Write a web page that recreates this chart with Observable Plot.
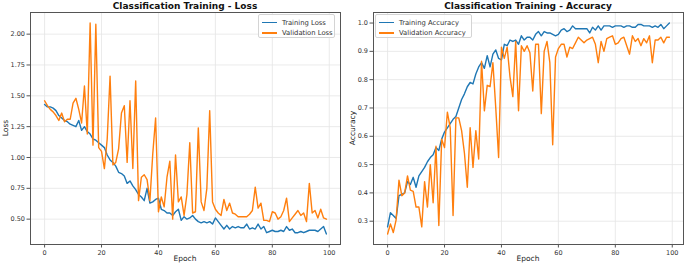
<!DOCTYPE html>
<html>
<head>
<meta charset="utf-8">
<script src="https://cdn.jsdelivr.net/npm/d3@7"></script>
<script src="https://cdn.jsdelivr.net/npm/@observablehq/plot@0.6"></script>
<style>
  html, body { margin: 0; padding: 0; background: #fff; }
  #wrap { position: relative; width: 685px; height: 267px; overflow: hidden; font-family: "DejaVu Sans", sans-serif; }
  .panel { position: absolute; top: 0; }
  .title { position: absolute; top: 0.5px; font-size: 9px; font-weight: bold; line-height: 11px; color: #111; transform: translateX(-50%); white-space: nowrap; }
  .xlab { position: absolute; top: 254px; font-size: 7.5px; line-height: 9px; color: #222; transform: translateX(-50%); white-space: nowrap; }
  .ylab { position: absolute; font-size: 7.5px; line-height: 9px; color: #222; transform: translate(-50%, -50%) rotate(-90deg); white-space: nowrap; }
  .legend { position: absolute; background: rgba(255,255,255,0.85); border: 1px solid #d4d4d4; border-radius: 2px; box-sizing: border-box; }
  .lg-row { position: absolute; left: 0; height: 10px; font-size: 6.8px; line-height: 10px; color: #333; white-space: nowrap; }
  .lg-sw { position: absolute; left: 3px; top: 4.3px; width: 15px; height: 1.5px; }
  .lg-tx { position: absolute; left: 23px; top: 0; }
</style>
</head>
<body>
<div id="wrap"></div>
<script>
// ---- data ----
const epochs = d3.range(100);
const xTicks = [0, 20, 40, 60, 80, 100];

const trainLoss = [
  1.43, 1.41, 1.41, 1.40, 1.38, 1.34, 1.32, 1.30, 1.29, 1.27,
  1.26, 1.25, 1.30, 1.22, 1.25, 1.21, 1.19, 1.15, 1.14, 1.12,
  1.10, 1.08, 1.02, 0.98, 0.96, 0.93, 0.88, 0.87, 0.85, 0.79,
  0.81, 0.77, 0.74, 0.70, 0.68, 0.65, 0.75, 0.63, 0.64, 0.66,
  0.67, 0.58, 0.57, 0.55, 0.55, 0.53, 0.56, 0.58, 0.49, 0.52,
  0.50, 0.51, 0.53, 0.50, 0.48, 0.47, 0.48, 0.47, 0.48, 0.46,
  0.51, 0.48, 0.45, 0.42, 0.45, 0.42, 0.44, 0.43, 0.44, 0.43,
  0.43, 0.46, 0.42, 0.43, 0.42, 0.46, 0.42, 0.44, 0.39, 0.40,
  0.41, 0.40, 0.40, 0.41, 0.40, 0.44, 0.41, 0.42, 0.39, 0.39,
  0.40, 0.39, 0.40, 0.41, 0.41, 0.41, 0.40, 0.42, 0.44, 0.38
];
const valLoss = [
  1.46, 1.42, 1.39, 1.37, 1.34, 1.30, 1.36, 1.29, 1.31, 1.31,
  1.44, 1.48, 1.39, 1.28, 1.58, 1.19, 2.09, 1.10, 2.08, 1.08,
  1.05, 0.91, 1.15, 1.66, 0.94, 0.96, 1.07, 1.36, 1.42, 0.96,
  1.46, 0.91, 1.62, 0.65, 0.84, 0.86, 0.82, 0.65, 1.03, 1.32,
  0.56, 0.68, 0.60, 0.84, 0.97, 0.50, 1.02, 0.64, 0.68, 0.53,
  0.70, 1.12, 0.55, 0.56, 1.24, 0.64, 0.57, 0.75, 1.38, 0.64,
  0.58, 0.55, 0.53, 0.66, 0.57, 0.63, 0.55, 0.54, 0.52, 0.52,
  0.52, 0.52, 0.54, 0.57, 0.76, 0.59, 0.63, 0.49, 0.49, 0.48,
  0.56, 0.55, 0.50, 0.52, 0.57, 0.67, 0.48, 0.51, 0.54, 0.57,
  0.53, 0.55, 0.48, 0.79, 0.55, 0.57, 0.51, 0.58, 0.51, 0.50
];
const trainAcc = [
  0.28, 0.33, 0.32, 0.31, 0.39, 0.395, 0.40, 0.44, 0.43, 0.455,
  0.42, 0.46, 0.475, 0.49, 0.51, 0.525, 0.535, 0.56, 0.55, 0.59,
  0.615, 0.63, 0.645, 0.66, 0.67, 0.70, 0.73, 0.75, 0.775, 0.79,
  0.785, 0.82, 0.845, 0.86, 0.84, 0.885, 0.845, 0.89, 0.905, 0.875,
  0.87, 0.925, 0.92, 0.94, 0.935, 0.94, 0.925, 0.955, 0.94, 0.95,
  0.95, 0.94, 0.96, 0.97, 0.955, 0.97, 0.965, 0.965, 0.96, 0.955,
  0.96, 0.975, 0.98, 0.97, 0.975, 0.99, 0.98, 0.98, 0.98, 0.98,
  0.98, 0.965, 0.985, 0.975, 0.99, 0.975, 0.99, 0.99, 0.99, 0.985,
  0.99, 0.99, 0.99, 0.985, 0.99, 0.99, 0.985, 0.985, 0.995, 0.995,
  0.99, 0.99, 0.99, 0.985, 0.99, 0.985, 0.995, 0.98, 0.99, 1.0
];
const valAcc = [
  0.255, 0.29, 0.26, 0.305, 0.445, 0.39, 0.40, 0.46, 0.41, 0.405,
  0.35, 0.35, 0.28, 0.44, 0.35, 0.50, 0.365, 0.565, 0.285, 0.59,
  0.56, 0.685, 0.63, 0.32, 0.665, 0.665, 0.62, 0.54, 0.42, 0.63,
  0.49, 0.62, 0.52, 0.865, 0.69, 0.78, 0.775, 0.86, 0.70, 0.525,
  0.915, 0.875, 0.915, 0.81, 0.74, 0.935, 0.69, 0.92, 0.90, 0.92,
  0.895, 0.76, 0.925, 0.925, 0.68, 0.90, 0.935, 0.86, 0.57, 0.88,
  0.91, 0.925, 0.925, 0.88, 0.915, 0.91, 0.93, 0.95, 0.94, 0.93,
  0.94, 0.945, 0.95, 0.925, 0.86, 0.935, 0.90, 0.945, 0.95, 0.955,
  0.925, 0.93, 0.945, 0.95, 0.92, 0.89, 0.955, 0.935, 0.945, 0.92,
  0.945, 0.93, 0.955, 0.86, 0.94, 0.94, 0.95, 0.93, 0.95, 0.95
];
const lossTicks = [0.5, 0.75, 1.0, 1.25, 1.5, 1.75, 2.0];
const accTicks = [0.3, 0.4, 0.5, 0.6, 0.7, 0.8, 0.9, 1.0];

const panels = [
  {
    title: "Classification Training - Loss", yLabel: "Loss",
    series: [["Training Loss", trainLoss], ["Validation Loss", valLoss]],
    yTicks: lossTicks, yFormat: ".2f", left: 0, marginLeft: 30, marginRight: 5,
    legendPos: { left: 258, width: 77 }, yLabX: 4.5
  },
  {
    title: "Classification Training - Accuracy", yLabel: "Accuracy",
    series: [["Training Accuracy", trainAcc], ["Validation Accuracy", valAcc]],
    yTicks: accTicks, yFormat: ".1f", left: 340, marginLeft: 33, marginRight: 2,
    legendPos: { left: 375, width: 97 }, yLabX: 351.5
  }
];
const colors = ["#1f77b4", "#ff7f0e"];

const wrap = document.getElementById("wrap");
const W = 345, H = 267, MT = 12, MB = 23;

function padDomain(arrs) {
  const [lo, hi] = d3.extent(arrs.flat());
  const p = (hi - lo) * 0.05;
  return [lo - p, hi + p];
}

for (const p of panels) {
  const xDom = [-4.95, 103.95];
  const yDom = padDomain(p.series.map(s => s[1]));
  const chart = Plot.plot({
    width: W, height: H,
    marginLeft: p.marginLeft, marginRight: p.marginRight, marginTop: MT, marginBottom: MB,
    style: { fontFamily: "DejaVu Sans, sans-serif", fontSize: "6.5px", color: "#333", background: "transparent", overflow: "visible" },
    x: { domain: xDom },
    y: { domain: yDom },
    marks: [
      Plot.gridX(xTicks, { stroke: "#e4e4e4", strokeOpacity: 1, strokeWidth: 0.8 }),
      Plot.gridY(p.yTicks, { stroke: "#e4e4e4", strokeOpacity: 1, strokeWidth: 0.8 }),
      ...p.series.map((s, k) => Plot.line(s[1], { x: (d, i) => epochs[i], y: d => d, stroke: colors[k], strokeWidth: 1.4 })),
      Plot.frame({ stroke: "#555", strokeWidth: 1 }),
      Plot.axisX(xTicks, { tickSize: 3.5, tickPadding: 2, label: null, stroke: "#555", fill: "#333" }),
      Plot.axisY(p.yTicks, { tickSize: 3.5, tickPadding: 2, tickFormat: d3.format(p.yFormat), label: null, stroke: "#555", fill: "#333" })
    ]
  });
  const holder = document.createElement("div");
  holder.className = "panel";
  holder.style.left = p.left + "px";
  holder.appendChild(chart);
  wrap.appendChild(holder);

  const cx = p.left + p.marginLeft + (W - p.marginLeft - p.marginRight) / 2;
  const t = document.createElement("div");
  t.className = "title"; t.textContent = p.title; t.style.left = cx + "px";
  wrap.appendChild(t);

  const xl = document.createElement("div");
  xl.className = "xlab"; xl.textContent = "Epoch"; xl.style.left = cx + "px";
  wrap.appendChild(xl);

  const yl = document.createElement("div");
  yl.className = "ylab"; yl.textContent = p.yLabel;
  yl.style.left = p.yLabX + "px"; yl.style.top = (MT + (H - MT - MB) / 2) + "px";
  wrap.appendChild(yl);

  const lg = document.createElement("div");
  lg.className = "legend";
  lg.style.left = p.legendPos.left + "px"; lg.style.top = "14px";
  lg.style.width = p.legendPos.width + "px"; lg.style.height = "24px";
  p.series.forEach((s, k) => {
    const row = document.createElement("div");
    row.className = "lg-row"; row.style.top = (2.5 + k * 10.6) + "px";
    const sw = document.createElement("div");
    sw.className = "lg-sw"; sw.style.background = colors[k];
    const tx = document.createElement("div");
    tx.className = "lg-tx"; tx.textContent = s[0];
    row.appendChild(sw); row.appendChild(tx);
    lg.appendChild(row);
  });
  wrap.appendChild(lg);
}
</script>
</body>
</html>
